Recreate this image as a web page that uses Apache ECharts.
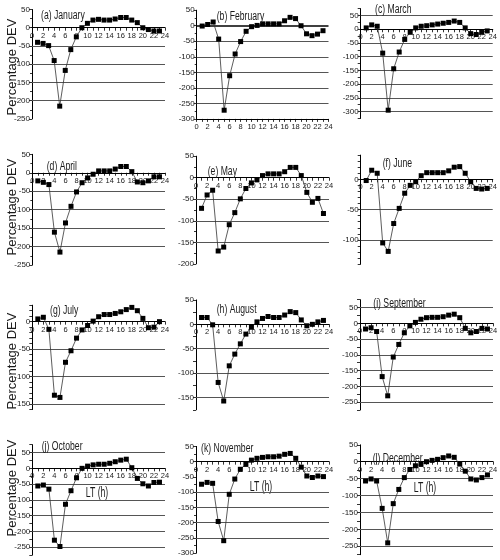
<!DOCTYPE html>
<html>
<head>
<meta charset="utf-8">
<script src="https://cdn.jsdelivr.net/npm/echarts@6/dist/echarts.min.js"></script>
<style>
html, body { margin: 0; padding: 0; background: #fff; }
#chart { width: 500px; height: 560px; }
</style>
</head>
<body>
<div id="chart"></div>
<script>
// local time (h)
var hours = [1, 2, 3, 4, 5, 6, 7, 8, 9, 10, 11, 12, 13, 14, 15, 16, 17, 18, 19, 20, 21, 22, 23];

// percentage deviation per month
var jan = [-40, -43, -49, -90, -215, -117, -60, -25, 0, 12, 21, 23, 21, 21, 24, 28, 28, 21, 14, 0, -5, -9, -9];
var feb = [-1, 4, 12, -43, -272, -161, -91, -51, -18, -3, 1, 6, 6, 6, 6, 16, 27, 23, 0, -26, -32, -27, -16];
var mar = [5, 16, 11, -87, -295, -144, -83, -37, -11, 5, 11, 13, 16, 19, 22, 25, 30, 25, 5, -16, -19, -11, -6];
var apr = [-22, -26, -32, -161, -215, -136, -91, -52, -27, -14, -4, 5, 5, 5, 10, 17, 17, 3, -25, -27, -22, -11, -11];
var may = [-71, -40, -29, -170, -161, -109, -81, -49, -25, -12, -5, 5, 9, 9, 9, 14, 24, 24, 5, -34, -57, -48, -83];
var jun = [-2, 15, 10, -105, -119, -73, -48, -23, -10, -4, 6, 11, 11, 11, 11, 14, 20, 21, 10, -4, -15, -16, -15];
var jul = [5, 8, -14, -134, -138, -74, -53, -30, -15, -7, 1, 9, 13, 13, 15, 18, 22, 26, 20, 6, -11, -10, 0];
var aug = [14, 14, -1, -119, -157, -85, -61, -40, -20, -6, 5, 12, 16, 14, 14, 19, 26, 24, 9, -3, 0, 5, 8];
var sep = [-18, -14, -26, -169, -230, -107, -67, -30, -8, 3, 13, 18, 19, 19, 21, 26, 29, 18, -16, -30, -26, -16, -18];
var oct = [-56, -53, -66, -228, -248, -114, -71, -30, 0, 7, 11, 13, 13, 16, 21, 26, 29, 2, -32, -49, -56, -45, -44];
var nov = [-74, -68, -71, -196, -259, -107, -57, -25, -9, 5, 11, 14, 16, 16, 18, 24, 27, 11, -18, -47, -52, -47, -49];
var dec = [-57, -51, -57, -138, -240, -124, -82, -47, -23, -12, -8, 0, 4, 7, 12, 17, 13, -7, -28, -51, -54, -47, -39];

var months = [jan, feb, mar, apr, may, jun, jul, aug, sep, oct, nov, dec];
var titles = ['(a) January', '(b) February', '(c) March', '(d) April', '(e) May', '(f) June',
              '(g) July', '(h) August', '(i) September', '(j) October', '(k) November', '(l) December'];

// panel placement (px) and y range
var layout = [
  {left: 32,    right: 165,   top: 9.5,   height: 109.4, max: 50, min: -250, step: 50, lines: [-50, -100, -150, -200], tx: 41, ty: 16},
  {left: 196.7, right: 328.5, top: 10.2,  height: 108.7, max: 50, min: -300, step: 50, lines: [-50, -100, -150, -200, -250], bottomX: true, tx: 216.7, ty: 17},
  {left: 360.7, right: 492.7, top: 8.7,   height: 109.7, max: 75, min: -325, step: 25, lines: [50, -50, -100, -150, -200, -250, -300], tx: 375, ty: 10},
  {left: 32.3,  right: 165,   top: 154.3, height: 110.7, max: 50, min: -250, step: 50, lines: [-50, -100, -150, -200], tx: 46.7, ty: 166.7},
  {left: 196,   right: 329,   top: 156.2, height: 107.7, max: 50, min: -200, step: 50, lines: [-50, -100, -150], tx: 207.7, ty: 171.7},
  {left: 360.7, right: 492.7, top: 155.1, height: 109,   max: 40, min: -140, step: 10, lines: [-50, -100], tx: 382.7, ty: 164},
  {left: 32.3,  right: 165,   top: 305.2, height: 104.3, max: 30, min: -160, step: 10, lines: [-50, -100, -150], tx: 50, ty: 311},
  {left: 196,   right: 329,   top: 299.9, height: 109.9, max: 50, min: -175, step: 25, lines: [-50, -100, -150], tx: 216.7, ty: 310},
  {left: 360,   right: 493,   top: 299.7, height: 110.3, max: 75, min: -275, step: 25, lines: [50, -50, -100, -150, -200, -250], tx: 373.3, ty: 303.3},
  {left: 32.3,  right: 165,   top: 444.7, height: 110.3, max: 75, min: -275, step: 25, lines: [50, -50, -100, -150, -200, -250], tx: 41.7, ty: 446.7},
  {left: 196,   right: 329,   top: 446.4, height: 106.8, max: 50, min: -300, step: 50, lines: [-100, -150, -200, -250], tx: 201, ty: 448.3},
  {left: 360,   right: 493,   top: 444.8, height: 109.9, max: 50, min: -275, step: 25, lines: [-50, -100, -150, -200, -250], tx: 372.7, ty: 458.3}
];

var sans = "'Liberation Sans', Arial, sans-serif";
var ink = '#1a1a1a';

var grids = [], xAxes = [], yAxes = [], series = [], graphics = [];

layout.forEach(function (p, i) {
  grids.push({left: p.left, top: p.top, width: p.right - p.left, height: p.height,
              containLabel: false, outerBoundsMode: 'none'});

  // hour axis sits on the zero line, except in (b) where it is at the bottom
  var zeroShift = p.bottomX ? 0 : -p.height * (0 - p.min) / (p.max - p.min);

  xAxes.push({
    gridIndex: i, type: 'value', min: 0, max: 24, interval: 2,
    position: 'bottom', offset: zeroShift,
    axisLine: {onZero: false, lineStyle: {color: '#000', width: 1.2}},
    axisTick: {show: true, length: 3, lineStyle: {color: '#000', width: 0.8}},
    minorTick: {show: true, splitNumber: 2, length: 3, lineStyle: {color: '#000', width: 0.8}},
    axisLabel: {fontSize: 7.5, fontFamily: sans, color: ink, margin: 4, showMinLabel: true, showMaxLabel: true},
    splitLine: {show: false}
  });

  yAxes.push({
    gridIndex: i, type: 'value', min: p.min, max: p.max, interval: p.step,
    axisLine: {show: true, onZero: false, lineStyle: {color: '#000', width: 1}},
    axisTick: {show: true, length: 3, lineStyle: {color: '#000', width: 0.8}},
    minorTick: {show: p.step === 50, splitNumber: 2, length: 2, lineStyle: {color: '#000', width: 0.8}},
    axisLabel: {
      fontSize: 8, fontFamily: sans, color: ink, margin: 2,
      showMinLabel: true, showMaxLabel: true,
      formatter: function (v) { return (Math.abs(v) % 50 === 0) ? String(v) : ''; }
    },
    splitLine: {show: false}
  });

  var gl = p.lines.map(function (v) { return {yAxis: v}; });
  if (p.bottomX) gl.push({yAxis: 0, lineStyle: {color: '#000', width: 1.6}});

  series.push({
    type: 'line', xAxisIndex: i, yAxisIndex: i,
    data: hours.map(function (h, k) { return [h, months[i][k]]; }),
    symbol: 'rect', symbolSize: 5,
    itemStyle: {color: '#000'},
    lineStyle: {color: '#333', width: 0.8},
    z: 5,
    markLine: {
      silent: true, symbol: 'none', label: {show: false},
      lineStyle: {color: '#555', width: 1.2, type: 'solid'},
      animation: false,
      data: gl
    }
  });

  graphics.push({
    type: 'text', x: p.tx, y: p.ty, scaleX: 0.72, z: 10,
    style: {text: titles[i], font: '12px ' + sans, fill: ink,
            textVerticalAlign: 'middle', verticalAlign: 'middle'}
  });
});

// y axis title, one per row
[67, 207, 361, 488].forEach(function (cy) {
  graphics.push({
    type: 'text', x: 12, y: cy, rotation: Math.PI / 2,
    style: {text: 'Percentage DEV', font: '13px ' + sans, fill: ink,
            textAlign: 'center', align: 'center', textVerticalAlign: 'middle', verticalAlign: 'middle'}
  });
});

// x axis title on the bottom row
[[97, 493], [261, 487], [425, 488]].forEach(function (c) {
  graphics.push({
    type: 'text', x: c[0], y: c[1], scaleX: 0.62,
    style: {text: 'LT (h)', font: '14px ' + sans, fill: ink,
            textAlign: 'center', align: 'center', textVerticalAlign: 'middle', verticalAlign: 'middle'}
  });
});

var chart = echarts.init(document.getElementById('chart'));
chart.setOption({
  animation: false,
  backgroundColor: '#fff',
  grid: grids,
  xAxis: xAxes,
  yAxis: yAxes,
  series: series,
  graphic: graphics
});
</script>
</body>
</html>
